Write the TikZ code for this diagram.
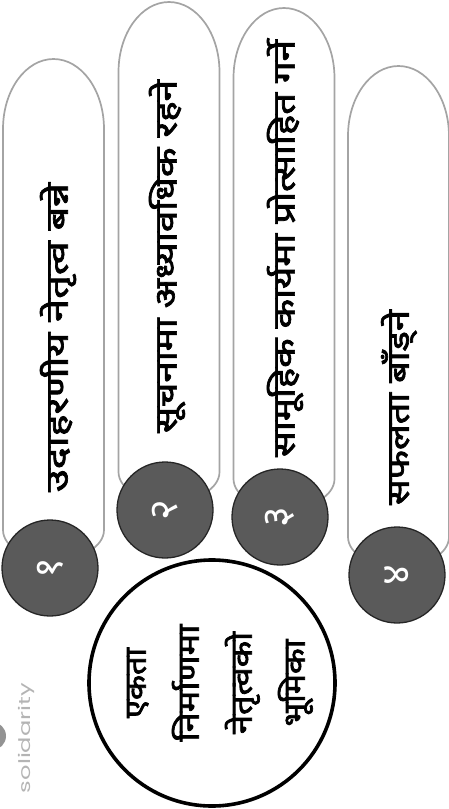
\documentclass[tikz,border=0pt]{standalone}
\usepackage{fontspec}
\usepackage{graphicx}
\newfontfamily\deva[Script=Devanagari]{Noto Sans}
\newfontfamily\devab[Script=Devanagari,FakeBold=2.2]{Noto Sans}
\newfontfamily\wmfont{Poppins}
\definecolor{pillgray}{HTML}{A4A4A4}
\definecolor{discgray}{HTML}{5A5A5A}
\definecolor{discedge}{HTML}{262626}
\definecolor{wmgray}{HTML}{B4B4B4}
\newcommand\fitlen[2]{\resizebox{#1}{\height}{#2}}
\tikzset{
  pillline/.style={draw=pillgray, line width=1.7pt, fill=white},
  disc/.style={circle, fill=discgray, draw=discedge, line width=1.3pt, minimum size=96pt, inner sep=0pt},
  digit/.style={text=white, rotate=90, font=\deva\fontsize{40}{40}\selectfont},
  pilltext/.style={rotate=90, inner sep=0pt, font=\devab\fontsize{31}{31}\selectfont},
  hub/.style={circle, draw=black, line width=3.6pt, minimum size=246pt, inner sep=0pt},
  hubtext/.style={rotate=90, align=center, inner sep=0pt, font=\devab\fontsize{30}{53}\selectfont},
}
\newcommand\pillshape[4]{% center x, top y, straight bottom y, name
  \draw[pillline] (#1-50.5,#3) -- (#1-50.5,#2+70)
    arc[start angle=180, end angle=360, x radius=50.5, y radius=70]
    -- (#1+50.5,#3)
    arc[start angle=0, end angle=180, x radius=50.5, y radius=30] -- cycle;
  \coordinate (#4) at (#1,#2);
}
\begin{document}
\begin{tikzpicture}[x=1pt,y=-1pt]
\useasboundingbox (0,0) rectangle (448,809);
% fingers
\pillshape{53.5}{59}{530}{p1}
\pillshape{169}{2}{472}{p2}
\pillshape{284}{8}{479}{p3}
\pillshape{398.5}{66}{537}{p4}
% numbered discs
\node[disc] (d1) at (50,568) {};
\node[disc] (d2) at (165,510) {};
\node[disc] (d3) at (280,517) {};
\node[disc] (d4) at (397,575) {};
\node[digit] (n1) at (d1) {१};
\node[digit] (n2) at (d2) {२};
\node[digit] (n3) at (d3) {३};
\node[digit] (n4) at (d4) {४};
% finger texts
\node[pilltext] (t1) at (58,337.5) {\fitlen{309pt}{उदाहरणीय नेतृत्व बन्ने}};
\node[pilltext] (t2) at (167,256.5) {\fitlen{353pt}{सूचनामा अध्यावधिक रहने}};
\node[pilltext] (t3) at (285,248.5) {\fitlen{417pt}{सामूहिक कार्यमा प्रोत्साहित गर्ने}};
\node[pilltext] (t4) at (399,407.5) {\fitlen{195pt}{सफलता बाँड्ने}};
% palm
\node[hub] (hub) at (212,683) {};
\node[hubtext] (ht) at (220,683) {\fitlen{70pt}{एकता}\\\fitlen{117pt}{निर्माणमा}\\\fitlen{102pt}{नेतृत्वको}\\\fitlen{87pt}{भूमिका}};
% watermark
\fill[gray!85] (-8,736) circle (14);
\node[rotate=90, text=wmgray, font=\wmfont\fontsize{16}{16}\selectfont, inner sep=0pt] (wm) at (26,738) {\fitlen{110pt}{solidarity}};
\end{tikzpicture}
\end{document}
